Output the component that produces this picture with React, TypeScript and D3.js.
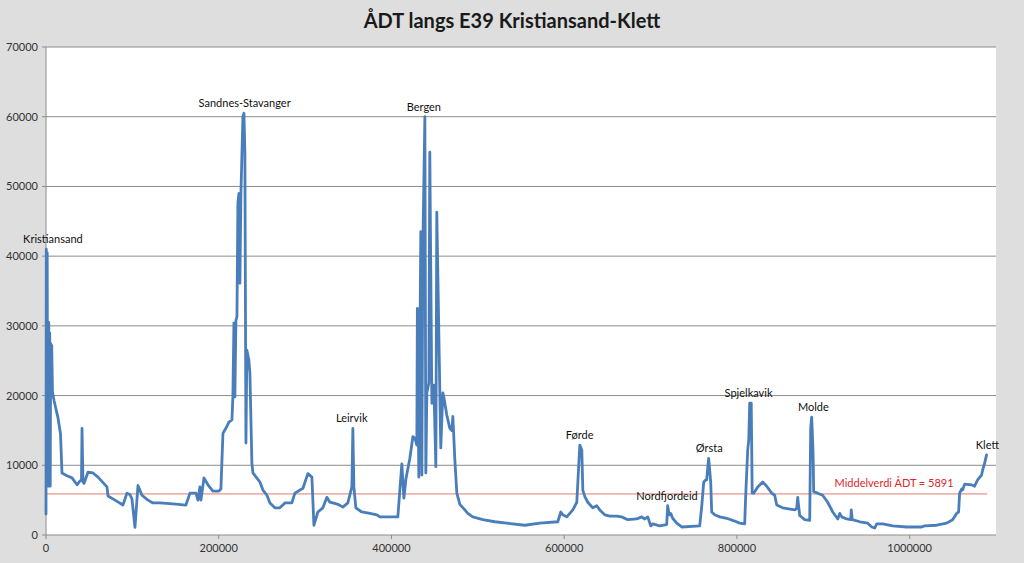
import React from "react";
import * as d3 from "d3";

const distance = [
  0, 350, 800, 1400, 1850, 2300, 2800, 3200, 3700, 4300, 4900, 5400, 6000, 6600, 7500, 9300, 13900, 16800, 18500,
  24300, 30100, 33600, 35900, 39400, 41100, 41700, 42800, 44000, 48600, 54400, 60200, 70600, 71800, 79900, 89100,
  93700, 97200, 99500, 103000, 106500, 111100, 118100, 123800, 131900, 147000, 162000, 166700, 173600, 175900,
  178200, 179400, 182900, 187500, 193300, 200200, 202500, 204900, 208300, 211800, 215300, 216400, 217600, 218700,
  219900, 221100, 222200, 223400, 224500, 225700, 228000, 229200, 230300, 231500, 232600, 234900, 236100, 238400,
  239600, 247700, 251200, 255800, 259300, 265000, 270800, 276600, 284700, 288200, 297500, 303200, 307900, 310200,
  314800, 320600, 325200, 328700, 332200, 338000, 343700, 349500, 354200, 355300, 356500, 358800, 365700, 375000,
  383100, 386500, 407400, 412000, 414400, 416700, 421300, 424800, 427100, 429400, 430000, 431700, 434000, 435200,
  436300, 438700, 439800, 441000, 443300, 444400, 446800, 447900, 449100, 451400, 452500, 457100, 459500, 460600,
  464100, 467600, 469900, 471100, 473400, 475700, 479200, 485000, 488400, 494200, 505800, 519700, 533600, 554400,
  571800, 592600, 596100, 598400, 603000, 610000, 614600, 615800, 618100, 620400, 621600, 623900, 627300, 633100,
  637700, 641200, 647000, 652800, 660900, 666700, 673600, 684000, 689700, 693300, 696800, 700200, 702600, 710700,
  718700, 719800, 721600, 723300, 725600, 730300, 736100, 756900, 759200, 761600, 763900, 765000, 766200, 767300,
  769700, 770800, 774300, 780100, 788200, 797400, 803200, 809000, 810200, 812500, 813700, 814800, 816600, 817700,
  819500, 824100, 829900, 834500, 840300, 843800, 846100, 853000, 866900, 869200, 870400, 872700, 878500, 884300,
  885400, 886600, 887800, 888300, 888900, 893500, 899300, 905100, 911000, 916800, 919100, 921400, 927200, 931800,
  932400, 933600, 942300, 951500, 956200, 959500, 961900, 968800, 980400, 996500, 1013900, 1017300, 1031300,
  1042800, 1049800, 1054400, 1056700, 1057900, 1060200, 1061300, 1063700, 1071700, 1075200, 1078700, 1083300,
  1084500, 1086800, 1089100,
];

const adt = [
  3000, 41000, 7000, 40500, 7500, 30000, 7000, 30500, 8000, 29000, 7000, 27500, 21500, 27200, 20500, 19300, 16800,
  14500, 8900, 8500, 8200, 7600, 7200, 7750, 7900, 15300, 7600, 7400, 9000, 8900, 8300, 6900, 5600, 5000, 4300,
  6000, 5800, 5200, 1100, 7100, 5700, 5000, 4600, 4600, 4450, 4300, 6000, 6000, 5000, 6900, 5000, 8200, 7200, 6300,
  6300, 6600, 14600, 15300, 16200, 16500, 19800, 30400, 19800, 30800, 31300, 47600, 49000, 36100, 49000, 60000,
  60500, 54800, 13200, 26500, 25100, 23200, 10300, 8900, 7600, 6450, 5700, 4600, 3900, 3900, 4600, 4600, 6000,
  6700, 8800, 8300, 1400, 3300, 3900, 5400, 4700, 4600, 4400, 4000, 4600, 6900, 15300, 6900, 3900, 3300, 3100,
  2900, 2600, 2600, 10200, 5300, 8000, 11000, 14100, 13900, 12900, 32500, 8300, 43500, 8600, 40900, 60000, 8900,
  20400, 21800, 54900, 18900, 20400, 21500, 9800, 46300, 12500, 20400, 19800, 17200, 15300, 15000, 17000, 10800,
  6000, 4400, 3600, 3100, 2600, 2200, 1900, 1700, 1400, 1700, 1900, 3300, 2900, 2600, 3600, 4700, 7500, 12900,
  12200, 6400, 5500, 4700, 3900, 4200, 3600, 2900, 2700, 2700, 2600, 2200, 2300, 2600, 2300, 2600, 1300, 1600,
  1300, 1500, 4200, 2900, 3100, 2400, 1700, 1150, 1300, 4000, 7600, 7900, 7900, 9600, 11000, 7500, 3300, 2900,
  2600, 2400, 2000, 1700, 1600, 5700, 12200, 13600, 18900, 18900, 6000, 6000, 6900, 7600, 7000, 6000, 5700, 4300,
  3900, 3600, 3800, 5400, 2800, 2200, 2100, 15300, 16900, 13200, 11000, 6200, 6000, 5700, 4700, 3300, 2300, 3100,
  2600, 2300, 2200, 3600, 2200, 1900, 1700, 1150, 1000, 1600, 1600, 1300, 1150, 1150, 1300, 1400, 1700, 2200,
  3100, 3300, 6000, 6600, 6450, 7300, 7200, 7000, 7900, 8600, 9300, 10300, 11500,
];

const placeNames = ["Kristiansand", "Sandnes-Stavanger", "Leirvik", "Bergen", "Førde", "Nordfjordeid", "Ørsta", "Spjelkavik", "Molde", "Klett"];
const placeDistance = [8000, 230000, 354000, 437500, 618000, 719000, 768000, 813500, 888500, 1090000];
const placeAdt = [41000, 60500, 15300, 60000, 12900, 4200, 11000, 18900, 16900, 11500];

const meanValue = 5891;
const meanLabel = "Middelverdi  ÅDT = 5891";
const yTicks = [0, 10000, 20000, 30000, 40000, 50000, 60000, 70000];
const xTicks = [0, 200000, 400000, 600000, 800000, 1000000];
const title = "ÅDT langs E39 Kristiansand-Klett";

export default function App() {
  const W = 1024, H = 563;
  const left = 46, right = 996, top = 47, bottom = 535;
  const x = d3.scaleLinear().domain([0, 1100000]).range([left, right]);
  const y = d3.scaleLinear().domain([0, 70000]).range([bottom, top]);
  const pts: [number, number][] = distance.map((d, i) => [d, adt[i]]);
  const line = d3.line<[number, number]>().x((d) => x(d[0])).y((d) => y(d[1]));
  const font = "Lato, 'Open Sans', sans-serif";
  return (
    <div style={{ position: "fixed", left: 0, top: 0, width: W, height: H }}>
      <svg width={W} height={H} style={{ display: "block" }}>
        <rect x={0} y={0} width={W} height={H} fill="#dedede" />
        <rect x={left} y={top} width={right - left} height={bottom - top} fill="#ffffff" />
        <text x={512} y={28} textAnchor="middle" fontFamily={font} fontWeight="bold" fontSize={20} fill="#1a1a1a">{title}</text>
        {yTicks.map((t) => (
          <g key={"y" + t}>
            {t > 0 && <line x1={left} x2={right} y1={y(t)} y2={y(t)} stroke="#8c8c8c" strokeWidth={1} />}
            <line x1={left - 4} x2={left} y1={y(t)} y2={y(t)} stroke="#8c8c8c" />
            <text x={38} y={y(t) + 4} textAnchor="end" fontFamily={font} fontSize={11} fill="#333">{t}</text>
          </g>
        ))}
        <line x1={left} x2={left} y1={top} y2={bottom} stroke="#8c8c8c" />
        <line x1={left} x2={right} y1={bottom} y2={bottom} stroke="#8c8c8c" />
        {xTicks.map((t) => (
          <g key={"x" + t}>
            <line x1={x(t)} x2={x(t)} y1={bottom} y2={bottom + 4} stroke="#8c8c8c" />
            <text x={x(t)} y={bottom + 17} textAnchor="middle" fontFamily={font} fontSize={11} fill="#333">{t}</text>
          </g>
        ))}
        <line x1={left} x2={x(1090000)} y1={y(meanValue)} y2={y(meanValue)} stroke="#e07a6e" strokeWidth={1} />
        <path d={line(pts) || ""} fill="none" stroke="#4a7ebb" strokeWidth={2.8} strokeLinejoin="round" strokeLinecap="round" />
        <text x={x(982000)} y={y(meanValue) - 7} textAnchor="middle" fontFamily={font} fontSize={11} fill="#e0262a">{meanLabel}</text>
        {placeNames.map((n, i) => (
          <text key={n} x={x(placeDistance[i])} y={y(placeAdt[i]) - 6} textAnchor="middle" fontFamily={font} fontSize={11} fill="#111">{n}</text>
        ))}
      </svg>
    </div>
  );
}
